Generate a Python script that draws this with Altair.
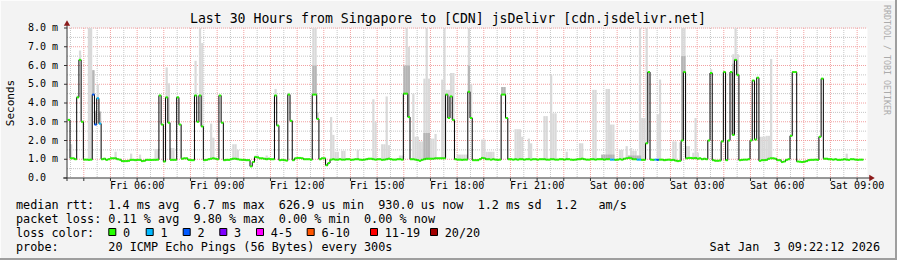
import altair as alt
import pandas as pd

FONT = "DejaVu Sans Mono"

# ---------------- data ----------------
title_text = "Last 30 Hours from Singapore to [CDN] jsDelivr [cdn.jsdelivr.net]"
y_axis_title = "Seconds"
watermark = "RRDTOOL / TOBI OETIKER"
range_start = "2026-01-02T03:22:12"
range_end = "2026-01-03T09:22:12"
first_step = "2026-01-02T03:24:00"
step_minutes = 5

# median rtt (ms), one value per 5-minute step, 12 per row (one hour)
median_ms = [
    3.1, 1.05, 1.05, 1.0, 4.3, 6.3, 3.0, 0.98, 0.98, 0.97, 0.98, 4.45,
    2.85, 4.25, 2.9, 1.0, 1.03, 0.97, 1.0, 1.05, 1.05, 1.05, 1.0, 0.98,
    0.9, 0.9, 0.9, 0.92, 0.97, 0.97, 0.95, 0.97, 0.97, 0.9, 0.92, 0.97,
    0.97, 0.96, 0.97, 0.97, 0.98, 4.4, 2.85, 0.88, 4.3, 2.95, 0.97, 0.97,
    0.97, 4.3, 2.85, 1.03, 1.05, 1.05, 0.97, 0.95, 0.95, 4.4, 3.0, 4.4,
    2.75, 0.95, 0.97, 1.0, 1.03, 1.05, 1.03, 1.0, 4.4, 2.95, 0.95, 0.97,
    0.97, 1.0, 1.03, 1.03, 1.0, 0.98, 0.97, 0.97, 0.95, 0.95, 0.62, 0.85,
    1.12, 1.1, 1.05, 1.05, 1.03, 1.0, 1.03, 1.0, 1.0, 4.4, 2.8, 0.95,
    0.97, 0.95, 0.93, 4.45, 3.05, 0.95, 1.05, 1.07, 1.07, 1.05, 1.0, 1.0,
    1.0, 0.98, 4.45, 4.45, 3.15, 1.0, 1.05, 1.05, 0.68, 0.8, 0.98, 1.0,
    0.98, 0.98, 1.0, 0.98, 0.98, 1.0, 1.0, 0.97, 0.98, 1.0, 1.0, 0.98,
    0.97, 0.98, 1.0, 1.03, 1.03, 1.0, 0.98, 1.0, 1.0, 0.97, 0.98, 1.0,
    1.03, 1.0, 0.98, 0.98, 1.0, 1.0, 0.98, 4.5, 4.5, 3.25, 1.0, 1.0,
    0.98, 0.95, 0.92, 0.97, 1.0, 1.03, 1.03, 1.03, 1.03, 1.05, 1.05, 1.05,
    1.05, 1.05, 4.45, 3.2, 4.35, 3.1, 1.0, 0.98, 0.98, 0.97, 0.98, 0.98,
    4.6, 3.2, 0.95, 0.95, 0.95, 1.0, 1.07, 1.05, 1.0, 1.0, 0.98, 1.0,
    0.98, 0.97, 0.98, 4.45, 4.45, 3.2, 1.0, 1.0, 0.98, 1.0, 0.98, 1.0,
    1.0, 0.98, 1.0, 1.0, 0.98, 1.0, 1.0, 0.98, 1.0, 1.0, 1.0, 0.98,
    0.98, 1.0, 1.0, 0.98, 0.98, 1.0, 1.0, 0.98, 1.0, 1.0, 0.98, 0.97,
    0.98, 1.0, 1.0, 1.03, 1.0, 0.98, 0.98, 1.0, 1.0, 0.98, 1.0, 1.0,
    1.0, 0.98, 1.0, 1.0, 0.98, 0.98, 0.97, 0.98, 1.0, 0.98, 1.03, 1.05,
    1.07, 1.05, 1.0, 1.0, 0.98, 0.98, 0.97, 0.97, 1.85, 5.65, 0.98, 0.97,
    0.98, 0.97, 0.98, 0.98, 0.95, 0.97, 0.98, 0.95, 0.97, 0.93, 0.9, 0.92,
    2.0, 5.65, 1.05, 1.07, 1.07, 1.05, 1.07, 1.03, 1.05, 1.0, 1.03, 1.0,
    2.0, 5.6, 0.95, 0.92, 0.92, 0.93, 1.95, 5.65, 0.95, 2.0, 5.65, 2.3,
    6.3, 5.5, 0.95, 0.97, 0.98, 0.98, 1.0, 2.0, 5.2, 2.05, 5.35, 0.92,
    0.95, 0.95, 0.97, 1.03, 1.05, 1.05, 1.03, 0.95, 0.95, 0.85, 0.88, 0.97,
    1.0, 2.25, 5.65, 5.65, 0.88, 0.87, 0.85, 0.87, 0.9, 0.95, 0.97, 0.97,
    0.98, 0.97, 2.2, 5.3, 1.03, 1.03, 1.0, 1.0, 0.98, 1.0, 0.97, 0.97,
    0.98, 1.0, 0.98, 0.97, 1.0, 1.0, 0.98, 0.97, 0.98, 0.98,
]

# steps with packet loss (step index, loss class); all others are "0"
loss_points = [(11, "2"), (12, "2"), (13, "1"), (14, "1"), (244, "1"), (245, "1"),
               (256, "1"), (257, "1"), (264, "1"), (265, "2")]

# smoke: (step index, top of the smoke in ms)
smoke_light = [
    (0, 2.2), (1, 1.8), (4, 4.4), (5, 6.8), (9, 8.5), (10, 8.5), (11, 5.75), (12, 3.6),
    (13, 5.0), (14, 3.2), (21, 1.4), (28, 1.3), (32, 1.25), (39, 1.55), (40, 1.55),
    (41, 4.45), (44, 5.9), (45, 5.05), (46, 1.6), (47, 1.6), (49, 4.35), (57, 6.25),
    (59, 8.5), (60, 7.2), (64, 2.9), (65, 2.15), (74, 1.8), (75, 1.8), (76, 1.5),
    (84, 1.2), (85, 1.2), (89, 1.2), (93, 4.75), (99, 4.55), (110, 8.5), (111, 8.5),
    (112, 3.5), (118, 3.25), (119, 2.3), (120, 1.4), (121, 1.4), (123, 1.45), (124, 1.45),
    (130, 1.5), (137, 4.2), (138, 3.0), (141, 1.8), (142, 1.8), (143, 4.35), (144, 1.75),
    (149, 1.2), (150, 1.2), (151, 5.85), (152, 8.5), (153, 7.0), (155, 4.5), (156, 2.2),
    (157, 2.2), (158, 1.95), (159, 1.95), (160, 5.3), (161, 8.5), (162, 5.3), (163, 2.1),
    (164, 2.1), (165, 2.35), (168, 5.25), (169, 8.5), (170, 4.7), (171, 4.7), (172, 5.6),
    (173, 5.6), (175, 1.25), (176, 1.25), (177, 1.25), (178, 1.25), (179, 1.25),
    (180, 8.5), (181, 5.0), (186, 2.05), (187, 2.05), (188, 1.4), (189, 1.4), (190, 1.4),
    (191, 1.4), (195, 4.85), (196, 4.85), (201, 2.6), (202, 2.6), (203, 2.6), (204, 2.2),
    (207, 2.1), (208, 1.85), (214, 3.3), (215, 3.3), (217, 5.5), (218, 3.45), (219, 3.45),
    (224, 1.4), (230, 1.85), (231, 1.85), (236, 4.7), (237, 4.7), (242, 4.75), (243, 4.75),
    (244, 2.85), (245, 2.85), (248, 1.5), (249, 1.5), (251, 1.7), (253, 1.6), (254, 1.45),
    (255, 1.45), (257, 8.5), (258, 3.2), (259, 3.2), (260, 8.5), (265, 3.4), (266, 5.25),
    (272, 1.95), (273, 1.95), (275, 1.9), (276, 8.5), (277, 8.5), (278, 1.7), (279, 1.7),
    (281, 1.35), (282, 3.2), (283, 1.35), (289, 5.8), (299, 6.6), (300, 8.5), (301, 6.6),
    (311, 2.2), (312, 2.2), (313, 2.2), (314, 2.25), (315, 2.25), (316, 6.35), (350, 1.3),
]
smoke_dark = [
    (11, 5.75), (12, 3.55), (14, 3.55), (110, 6.0), (111, 6.0), (151, 6.0), (152, 6.0),
    (153, 6.0), (160, 2.4), (161, 2.4), (162, 2.4), (180, 6.0), (195, 4.85), (196, 4.85),
    (240, 1.25), (241, 1.25), (242, 1.25), (243, 1.25), (244, 1.25), (245, 1.25),
    (252, 1.2), (253, 1.2), (254, 1.2), (255, 1.2), (256, 1.2), (257, 1.2),
    (276, 6.5), (277, 6.5), (299, 6.1), (300, 6.1),
]

x_tick_times = ["2026-01-02T06:00", "2026-01-02T09:00", "2026-01-02T12:00", "2026-01-02T15:00",
                "2026-01-02T18:00", "2026-01-02T21:00", "2026-01-03T00:00", "2026-01-03T03:00",
                "2026-01-03T06:00", "2026-01-03T09:00"]
x_tick_labels = ["Fri 06:00", "Fri 09:00", "Fri 12:00", "Fri 15:00", "Fri 18:00", "Fri 21:00",
                 "Sat 00:00", "Sat 03:00", "Sat 06:00", "Sat 09:00"]
y_tick_values = [0, 1, 2, 3, 4, 5, 6, 7, 8]
y_tick_labels = ["0.0  ", "1.0 m", "2.0 m", "3.0 m", "4.0 m", "5.0 m", "6.0 m", "7.0 m", "8.0 m"]

loss_labels = ["0", "1", "2", "3", "4-5", "6-10", "11-19", "20/20"]
loss_colors = ["#26ff00", "#00b8ff", "#0059ff", "#7e00ff", "#ff00ff", "#ff5500", "#ff0000", "#a10000"]

stat_lines = [
    "median rtt:  1.4 ms avg  6.7 ms max  626.9 us min  930.0 us now  1.2 ms sd  1.2   am/s",
    "packet loss: 0.11 % avg  9.80 % max  0.00 % min  0.00 % now",
    "loss color:",
    "probe:       20 ICMP Echo Pings (56 Bytes) every 300s",
]
footer_date = "Sat Jan  3 09:22:12 2026"

# ---------------- layout ----------------
W, H = 800, 150
PAD_L, PAD_T, PAD_R, PAD_B = 67, 28, 30, 82
TOTAL_W, TOTAL_H = W + PAD_L + PAD_R, H + PAD_T + PAD_B


def ms(ts):
    t = pd.Timestamp(ts)
    if t.tzinfo is None:
        t = t.tz_localize("UTC")
    return int(t.value // 10**6)


n = len(median_ms)
t0 = pd.Timestamp(first_step, tz="UTC")
starts = [ms(t0 + pd.Timedelta(minutes=step_minutes * i)) for i in range(n)]
ends = [ms(t0 + pd.Timedelta(minutes=step_minutes * (i + 1))) for i in range(n)]
loss_map = dict(loss_points)

df_med = pd.DataFrame({
    "t": starts, "t2": ends, "v": median_ms,
    "loss": [loss_map.get(i, "0") for i in range(n)],
})
df_line = pd.DataFrame({"t": starts + [ends[-1]], "v": median_ms + [median_ms[-1]]})


def smoke_df(points):
    rows = []
    for i, top in points:
        if top > median_ms[i]:
            rows.append({"t": starts[i], "t2": ends[i], "lo": median_ms[i], "hi": top})
    return pd.DataFrame(rows)


xs = alt.Scale(domain=[ms(range_start), ms(range_end)], nice=False, zero=False)
ys = alt.Scale(domain=[0, 8], nice=False, zero=True, clamp=True)

hours = [ms(t) for t in pd.date_range("2026-01-02T04:00", "2026-01-03T09:00", freq="h", tz="UTC")]
half_hours = [ms(t) for t in pd.date_range("2026-01-02T03:30", "2026-01-03T08:30", freq="h", tz="UTC")]
major_y = [1, 2, 3, 4, 5, 6, 7, 8]
minor_y = [0.5, 1.5, 2.5, 3.5, 4.5, 5.5, 6.5, 7.5]

MINOR = "#C6C6C6"
MAJOR = "#F2A0A0"
AXIS = "#333333"
ARROW = "#8B1A1A"

layers = []

# minor grid
layers.append(alt.Chart(pd.DataFrame({"t": half_hours})).mark_rule(
    color=MINOR, strokeDash=[1, 1], strokeWidth=1).encode(
    x=alt.X("t:Q", scale=xs, axis=None), y=alt.value(0), y2=alt.value(H)))
layers.append(alt.Chart(pd.DataFrame({"v": minor_y})).mark_rule(
    color=MINOR, strokeDash=[1, 1], strokeWidth=1).encode(
    y=alt.Y("v:Q", scale=ys, axis=None), x=alt.value(0), x2=alt.value(W)))
# major grid
layers.append(alt.Chart(pd.DataFrame({"t": hours})).mark_rule(
    color=MAJOR, strokeDash=[1, 1], strokeWidth=1).encode(
    x=alt.X("t:Q", scale=xs, axis=None), y=alt.value(0), y2=alt.value(H)))
layers.append(alt.Chart(pd.DataFrame({"v": major_y})).mark_rule(
    color=MAJOR, strokeDash=[1, 1], strokeWidth=1).encode(
    y=alt.Y("v:Q", scale=ys, axis=None), x=alt.value(0), x2=alt.value(W)))

# smoke
layers.append(alt.Chart(smoke_df(smoke_light)).mark_rect(color="#D9D9D9").encode(
    x=alt.X("t:Q", scale=xs, axis=None), x2="t2:Q",
    y=alt.Y("lo:Q", scale=ys, axis=None), y2="hi:Q"))
layers.append(alt.Chart(smoke_df(smoke_dark)).mark_rect(color="#B5B5B5").encode(
    x=alt.X("t:Q", scale=xs, axis=None), x2="t2:Q",
    y=alt.Y("lo:Q", scale=ys, axis=None), y2="hi:Q"))

# median: black step line + loss-coloured segments
layers.append(alt.Chart(df_line).mark_line(
    interpolate="step-after", color="#000000", strokeWidth=1).encode(
    x=alt.X("t:Q", scale=xs, axis=None), y=alt.Y("v:Q", scale=ys, axis=None)))
layers.append(alt.Chart(df_med).mark_rule(strokeWidth=2).encode(
    x=alt.X("t:Q", scale=xs, axis=None), x2="t2:Q",
    y=alt.Y("v:Q", scale=ys, axis=None),
    color=alt.Color("loss:N", scale=alt.Scale(domain=loss_labels, range=loss_colors), legend=None)))

# axes lines, ticks and arrows
layers.append(alt.Chart(pd.DataFrame({"a": [0]})).mark_rule(color=AXIS, strokeWidth=1).encode(
    x=alt.value(-4), x2=alt.value(W + 4), y=alt.value(H)))
layers.append(alt.Chart(pd.DataFrame({"a": [0]})).mark_rule(color=AXIS, strokeWidth=1).encode(
    x=alt.value(0), y=alt.value(-3), y2=alt.value(H + 3)))
layers.append(alt.Chart(pd.DataFrame({"t": hours})).mark_rule(color=AXIS, strokeWidth=1).encode(
    x=alt.X("t:Q", scale=xs, axis=None), y=alt.value(H), y2=alt.value(H + 3)))
layers.append(alt.Chart(pd.DataFrame({"v": y_tick_values})).mark_rule(color=AXIS, strokeWidth=1).encode(
    y=alt.Y("v:Q", scale=ys, axis=None), x=alt.value(-3), x2=alt.value(0)))
layers.append(alt.Chart(pd.DataFrame({"a": [0]})).mark_point(
    shape="triangle-up", filled=True, size=40, color=ARROW, opacity=1).encode(
    x=alt.value(0), y=alt.value(-5)))
layers.append(alt.Chart(pd.DataFrame({"a": [0]})).mark_point(
    shape="triangle-right", filled=True, size=40, color=ARROW, opacity=1).encode(
    x=alt.value(W + 5), y=alt.value(H)))

# tick labels
layers.append(alt.Chart(pd.DataFrame({"t": [ms(t) for t in x_tick_times], "s": x_tick_labels})).mark_text(
    font=FONT, fontSize=10, align="center", baseline="middle", color="#000000").encode(
    x=alt.X("t:Q", scale=xs, axis=None), y=alt.value(H + 8), text="s:N"))
layers.append(alt.Chart(pd.DataFrame({"v": y_tick_values,
                                      "s": [s.replace(" ", "\u00a0") for s in y_tick_labels]})).mark_text(
    font=FONT, fontSize=10, align="left", baseline="middle", color="#000000").encode(
    y=alt.Y("v:Q", scale=ys, axis=None), x=alt.value(28 - PAD_L), text="s:N"))


def txt(s, x, y, size, align="left", color="#000000", angle=0):
    return alt.Chart(pd.DataFrame({"s": [s.replace(" ", "\u00a0")]})).mark_text(
        font=FONT, fontSize=size, align=align, baseline="middle", color=color, angle=angle).encode(
        x=alt.value(x - PAD_L), y=alt.value(y - PAD_T), text="s:N")


layers.append(txt(title_text, 448, 19, 13.2, align="center"))
layers.append(txt(y_axis_title, 11, 103, 11, align="center", angle=270))
layers.append(txt(watermark, 886, 60, 8.3, align="center", color="#ABABAB", angle=90))

LEG_FS = 11.8
line_y = [204.5, 218.5, 232.5, 246.5]
for s, yy in zip(stat_lines, line_y):
    layers.append(txt(s, 16, yy, LEG_FS))
layers.append(txt(footer_date, 880, line_y[3], LEG_FS, align="right"))

sq_x = [108.3, 145.7, 182.7, 219.3, 256.0, 306.7, 370.0, 430.0]
for sx, lab, col in zip(sq_x, loss_labels, loss_colors):
    layers.append(alt.Chart(pd.DataFrame({"a": [0]})).mark_rect(
        color=col, stroke="#000000", strokeWidth=1).encode(
        x=alt.value(sx + 0.5 - PAD_L), x2=alt.value(sx + 7.5 - PAD_L),
        y=alt.value(228.5 - PAD_T), y2=alt.value(235.5 - PAD_T)))
    layers.append(txt(lab, sx + 14.7, line_y[2], LEG_FS))

# frame shading
def frame_rect(x1, x2, y1, y2, col):
    return alt.Chart(pd.DataFrame({"a": [0]})).mark_rect(color=col).encode(
        x=alt.value(x1 - PAD_L), x2=alt.value(x2 - PAD_L),
        y=alt.value(y1 - PAD_T), y2=alt.value(y2 - PAD_T))


layers.append(frame_rect(0, TOTAL_W, 0, 1, "#FCFCFC"))
layers.append(frame_rect(0, 1, 0, TOTAL_H, "#FCFCFC"))
layers.append(frame_rect(0, TOTAL_W, TOTAL_H - 2, TOTAL_H, "#9E9E9E"))
layers.append(frame_rect(TOTAL_W - 2, TOTAL_W, 0, TOTAL_H, "#9E9E9E"))

chart = alt.layer(*layers).properties(
    width=W, height=H,
    padding={"left": PAD_L, "top": PAD_T, "right": PAD_R, "bottom": PAD_B},
    autosize=alt.AutoSizeParams(type="none"),
    background="#F3F3F3",
).configure_view(fill="#FFFFFF", stroke="transparent")

chart.save("out.html", embed_options={"renderer": "svg", "actions": False})
